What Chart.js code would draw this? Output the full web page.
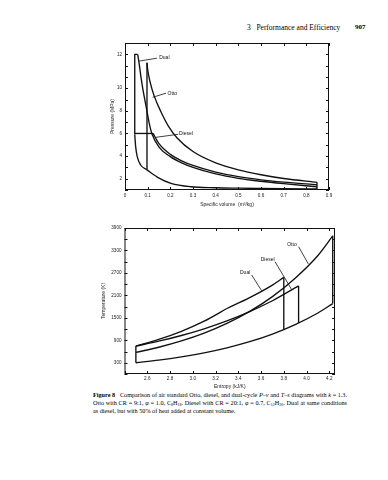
<!DOCTYPE html>
<html>
<head>
<meta charset="utf-8">
<script src="https://cdn.jsdelivr.net/npm/chart.js@4.4.1/dist/chart.umd.min.js"></script>
<style>
body { margin: 0; background: #fff; width: 388px; height: 480px; position: relative; overflow: hidden; font-family: "Liberation Serif", serif; color: #000; -webkit-font-smoothing: antialiased; }
canvas { position: absolute; }
#pv { left: 70px; top: 35px; }
#ts { left: 70px; top: 220px; }
.head { position: absolute; top: 23px; font-size: 7.5px; white-space: nowrap; }
.cap { position: absolute; left: 93px; top: 391px; width: 254px; font-size: 6.2px; line-height: 8px; }
.cap div { text-align: justify; text-align-last: justify; height: 8px; }
.cap div.last { text-align-last: left; }
.cap sub { font-size: 4px; line-height: 0; vertical-align: -1px; }
</style>
</head>
<body>
<div class="head" style="left:247px">3&nbsp;&nbsp;&nbsp;Performance and Efficiency</div>
<div class="head" style="left:355px;font-weight:bold;font-size:7px">907</div>

<canvas id="pv" width="266" height="180"></canvas>
<canvas id="ts" width="270" height="170"></canvas>

<div class="cap">
  <div><b>Figure 8</b>&nbsp;&nbsp; Comparison of air standard Otto, diesel, and dual-cycle <i>P–v</i> and <i>T–s</i> diagrams with <i>k</i> = 1.3.</div>
  <div>Otto with CR = 9:1, <i>φ</i> = 1.0, C<sub>8</sub>H<sub>18</sub>. Diesel with CR = 20:1, <i>φ</i> = 0.7, C<sub>12</sub>H<sub>26</sub>. Dual at same conditions</div>
  <div class="last">as diesel, but with 50% of heat added at constant volume.</div>
</div>

<script>
// ---- P-v diagram (v in m3/kg, P in MPa) ----
var compV = [0.043, 0.047, 0.054, 0.069, 0.097, 0.144, 0.203, 0.29, 0.4, 0.5, 0.6, 0.7, 0.847];
var compP = [5.9, 4.83, 3.95, 3.21, 2.78, 2.12, 1.59, 1.29, 1.2, 1.16, 1.13, 1.11, 1.09];

var dualV = [0.056, 0.062, 0.07, 0.079, 0.093, 0.107, 0.12, 0.15, 0.2, 0.25, 0.3, 0.4, 0.5, 0.6, 0.7, 0.847];
var dualP = [12, 11.5, 10.7, 9.9, 8.4, 6.9, 5.9, 4.8, 3.95, 3.4, 3.0, 2.42, 2.03, 1.77, 1.56, 1.29];

var dieselV = [0.124, 0.15, 0.2, 0.25, 0.3, 0.4, 0.5, 0.6, 0.7, 0.847];
var dieselP = [6, 5.1, 4.15, 3.58, 3.17, 2.58, 2.18, 1.9, 1.7, 1.47];

var ottoV = [0.097, 0.1, 0.112, 0.129, 0.159, 0.19, 0.23, 0.3, 0.4, 0.5, 0.6, 0.7, 0.847];
var ottoP = [11.5, 11.1, 10.3, 9.3, 7.9, 6.7, 5.6, 4.4, 3.4, 2.78, 2.35, 2.02, 1.68];

// straight segments: [v1, P1, v2, P2, ...]
var dualTop = [0.043, 5.9, 0.043, 12, 0.056, 12];
var dieselFlat = [0.043, 6, 0.124, 6];
var ottoRise = [0.097, 2.78, 0.097, 11.5];
var exhaust = [0.847, 1.09, 0.847, 1.68];

// ---- T-s diagram (s in kJ/K, T in K) ----
var rejectS = [2.5, 2.7, 2.9, 3.1, 3.3, 3.5, 3.7, 3.9, 4.1, 4.23];
var rejectT = [300, 370, 458, 566, 700, 864, 1068, 1320, 1630, 1880];

var ottoS = [2.5, 2.7, 2.9, 3.1, 3.3, 3.5, 3.7, 3.9, 4.1, 4.23];
var ottoT = [577, 714, 883, 1092, 1351, 1671, 2068, 2559, 3166, 3690];

var dieselS = [2.5, 2.7, 2.9, 3.1, 3.3, 3.5, 3.7, 3.93];
var dieselT = [746, 876, 1029, 1208, 1418, 1666, 1956, 2353];

var dualCvS = [2.5, 2.7, 2.9, 3.1, 3.3];
var dualCvT = [746, 923, 1141, 1412, 1750];
var dualCpS = [3.3, 3.5, 3.7, 3.8];
var dualCpT = [1750, 2040, 2375, 2580];

var compressLine = [2.5, 300, 2.5, 746];
var dualDrop = [3.8, 1187, 3.8, 2580];
var dieselDrop = [3.93, 1362, 3.93, 2353];
var ottoDrop = [4.23, 1880, 4.23, 3690];

// labels: text, text x, text y, leader from x,y to x,y
var pvNotes = [
  ['Dual', 0.151, 11.8, 0.141, 11.77, 0.063, 11.6],
  ['Otto', 0.188, 9.56, 0.181, 9.56, 0.122, 9.2],
  ['Diesel', 0.238, 6.02, 0.235, 5.93, 0.137, 5.66]
];
var tsNotes = [
  ['Otto', 3.83, 3448, 3.93, 3400, 4.016, 2940],
  ['Diesel', 3.597, 3046, 3.723, 3000, 3.87, 2250],
  ['Dual', 3.415, 2716, 3.518, 2644, 3.606, 2220]
];

// top of the pressure axis is drawn stretched (12 sits where 13 would be)
function stretch(p) { return p <= 10 ? p : 10 + (p - 10) * 1.5; }
function unstretch(t) { return t <= 10 ? t : 10 + (t - 10) / 1.5; }

function pvPoints(xs, ys) {
  return xs.map(function (x, i) { return { x: x, y: stretch(ys[i]) }; });
}
function tsPoints(xs, ys) {
  return xs.map(function (x, i) { return { x: x, y: ys[i] }; });
}
function segPoints(arr, fy) {
  var pts = [];
  for (var i = 0; i < arr.length; i += 2) pts.push({ x: arr[i], y: fy ? fy(arr[i + 1]) : arr[i + 1] });
  return pts;
}

function curve(pts) {
  return { data: pts, showLine: true, cubicInterpolationMode: 'monotone', borderColor: '#111', borderWidth: 1.35, pointRadius: 0 };
}
function straight(pts) {
  return { data: pts, showLine: true, tension: 0, borderColor: '#111', borderWidth: 1.35, pointRadius: 0 };
}

var tickFont = { family: 'Liberation Sans', size: 4.6 };
var titleFont = { family: 'Liberation Sans', size: 5 };

// frame, inward tick marks and curve labels
var framePlugin = {
  id: 'frame',
  afterDraw: function (chart) {
    var ctx = chart.ctx, a = chart.chartArea;
    var sx = chart.scales.x, sy = chart.scales.y;
    var len = 3;
    ctx.save();
    ctx.strokeStyle = '#111';
    ctx.lineWidth = 1;
    ctx.strokeRect(a.left + 0.5, a.top + 0.5, a.right - a.left - 1, a.bottom - a.top - 1);
    ctx.beginPath();
    sx.ticks.forEach(function (t) {
      var x = Math.round(sx.getPixelForValue(t.value)) + 0.5;
      ctx.moveTo(x, a.bottom); ctx.lineTo(x, a.bottom - len);
      ctx.moveTo(x, a.top); ctx.lineTo(x, a.top + len);
    });
    sy.ticks.forEach(function (t) {
      var y = Math.round(sy.getPixelForValue(t.value)) + 0.5;
      ctx.moveTo(a.left, y); ctx.lineTo(a.left + len, y);
      ctx.moveTo(a.right, y); ctx.lineTo(a.right - len, y);
    });
    ctx.stroke();

    var notes = chart.canvas.id === 'pv' ? pvNotes : tsNotes;
    var fy = chart.canvas.id === 'pv' ? stretch : function (v) { return v; };
    ctx.font = '5px "Liberation Sans"';
    ctx.fillStyle = '#111';
    ctx.textBaseline = 'middle';
    ctx.lineWidth = 0.8;
    notes.forEach(function (n) {
      ctx.fillText(n[0], sx.getPixelForValue(n[1]), sy.getPixelForValue(fy(n[2])));
      ctx.beginPath();
      ctx.moveTo(sx.getPixelForValue(n[3]), sy.getPixelForValue(fy(n[4])));
      ctx.lineTo(sx.getPixelForValue(n[5]), sy.getPixelForValue(fy(n[6])));
      ctx.stroke();
    });
    ctx.restore();
  }
};

function baseOptions(pad) {
  return {
    responsive: false,
    animation: false,
    devicePixelRatio: 1,
    layout: { padding: pad },
    plugins: { legend: { display: false }, tooltip: { enabled: false } }
  };
}

var pvOpts = baseOptions({ left: 40, top: 8, right: 7, bottom: 7 });
pvOpts.scales = {
  x: {
    type: 'linear', min: 0, max: 0.9,
    grid: { display: false, drawTicks: false }, border: { display: false },
    ticks: {
      stepSize: 0.1, padding: 3, autoSkip: false, maxRotation: 0, color: '#222', font: tickFont,
      callback: function (v) { return v === 0 ? '0' : v.toFixed(1); }
    },
    title: { display: true, text: 'Specific volume  (m³/kg)', color: '#222', font: titleFont, padding: { top: 3, bottom: 0 } },
    afterFit: function (s) { s.height = 18; }
  },
  y: {
    type: 'linear', min: 1, max: 14,
    grid: { display: false, drawTicks: false }, border: { display: false },
    ticks: {
      stepSize: 1, padding: 3, autoSkip: false, color: '#222', font: tickFont,
      callback: function (v) {
        var p = unstretch(v), r = Math.round(p);
        return (Math.abs(p - r) < 1e-6 && r % 2 === 0) ? String(r) : '';
      }
    },
    title: { display: true, text: 'Pressure (MPa)', color: '#222', font: titleFont, padding: { top: 0, bottom: 0 } },
    afterFit: function (s) { s.width = 15; }
  }
};

new Chart(document.getElementById('pv'), {
  type: 'scatter',
  data: {
    datasets: [
      curve(pvPoints(compV, compP)),
      curve(pvPoints(dualV, dualP)),
      curve(pvPoints(dieselV, dieselP)),
      curve(pvPoints(ottoV, ottoP)),
      straight(segPoints(dualTop, stretch)),
      straight(segPoints(dieselFlat, stretch)),
      straight(segPoints(ottoRise, stretch)),
      straight(segPoints(exhaust, stretch))
    ]
  },
  options: pvOpts,
  plugins: [framePlugin]
});

var tsOpts = baseOptions({ left: 31, top: 8, right: 5, bottom: 0 });
tsOpts.scales = {
  x: {
    type: 'linear', min: 2.4, max: 4.25,
    grid: { display: false, drawTicks: false }, border: { display: false },
    ticks: {
      stepSize: 0.2, padding: 2, autoSkip: false, maxRotation: 0, includeBounds: false, color: '#222', font: tickFont,
      callback: function (v) { return v < 2.5 ? '' : v.toFixed(1); }
    },
    title: { display: true, text: 'Entropy (kJ/K)', color: '#222', font: titleFont, padding: { top: 1, bottom: 0 } },
    afterFit: function (s) { s.height = 16; }
  },
  y: {
    type: 'linear', min: 0, max: 3900,
    grid: { display: false, drawTicks: false }, border: { display: false },
    ticks: {
      stepSize: 300, padding: 3, autoSkip: false, color: '#222', font: tickFont,
      callback: function (v) { return (v - 300) % 600 === 0 ? String(v) : ''; }
    },
    title: { display: true, text: 'Temperature (K)', color: '#222', font: titleFont, padding: { top: 0, bottom: 0 } },
    afterFit: function (s) { s.width = 23.5; }
  }
};

new Chart(document.getElementById('ts'), {
  type: 'scatter',
  data: {
    datasets: [
      curve(tsPoints(rejectS, rejectT)),
      curve(tsPoints(ottoS, ottoT)),
      curve(tsPoints(dieselS, dieselT)),
      curve(tsPoints(dualCvS, dualCvT)),
      curve(tsPoints(dualCpS, dualCpT)),
      straight(segPoints(compressLine)),
      straight(segPoints(dualDrop)),
      straight(segPoints(dieselDrop)),
      straight(segPoints(ottoDrop))
    ]
  },
  options: tsOpts,
  plugins: [framePlugin]
});
</script>
</body>
</html>
